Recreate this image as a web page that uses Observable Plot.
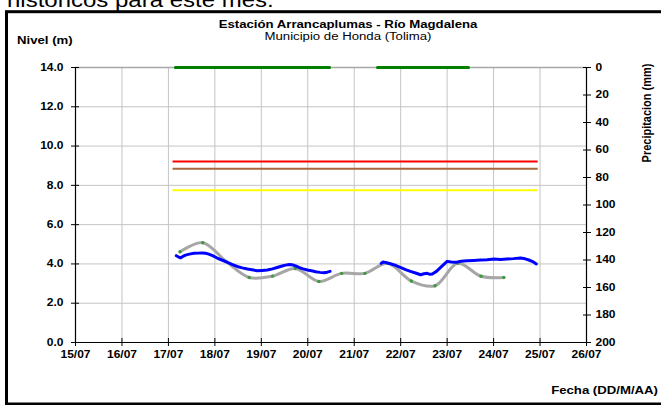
<!DOCTYPE html>
<html><head><meta charset="utf-8">
<script src="https://cdn.jsdelivr.net/npm/d3@7"></script>
<script src="https://cdn.jsdelivr.net/npm/@observablehq/plot@0.6"></script>
<style>
body{margin:0;background:#fff;}
#chart{position:relative;width:661px;height:405px;overflow:hidden;}
#chart svg{display:block;}
</style>
</head><body><div id="chart"></div>
<script>
// ---- data ----
const dayTicks = [15, 16, 17, 18, 19, 20, 21, 22, 23, 24, 25, 26];
const dayLabels = ["15/07","16/07","17/07","18/07","19/07","20/07","21/07","22/07","23/07","24/07","25/07","26/07"];
const levelTicks = [0, 2, 4, 6, 8, 10, 12, 14];
const precipTicks = [0, 20, 40, 60, 80, 100, 120, 140, 160, 180, 200];

// observed level (blue), null = no data
const obsDay = [17.17,17.22,17.26,17.31,17.37,17.45,17.55,17.64,17.73,17.80,17.87,17.95,18.05,18.15,18.27,18.38,18.48,18.59,18.70,18.80,18.91,19.02,19.13,19.24,19.34,19.43,19.52,19.60,19.66,19.74,19.81,19.90,19.99,20.08,20.17,20.26,20.35,20.42,20.48,
  21.00,
  21.58,21.62,21.67,21.76,21.85,21.94,22.03,22.12,22.21,22.32,22.43,22.50,22.57,22.63,22.68,22.77,22.86,22.93,23.00,23.09,23.18,23.30,23.43,23.57,23.72,23.86,24.01,24.15,24.29,24.43,24.58,24.68,24.76,24.84,24.92];
const obsLevel = [4.42,4.35,4.31,4.38,4.45,4.50,4.54,4.55,4.56,4.54,4.50,4.42,4.30,4.20,4.08,3.97,3.87,3.80,3.74,3.70,3.65,3.67,3.69,3.75,3.82,3.88,3.94,3.97,3.96,3.90,3.82,3.75,3.69,3.65,3.60,3.57,3.55,3.58,3.62,
  null,
  4.03,4.10,4.08,4.02,3.96,3.88,3.79,3.70,3.62,3.54,3.45,3.50,3.52,3.47,3.49,3.62,3.82,3.98,4.13,4.10,4.08,4.14,4.16,4.18,4.20,4.21,4.25,4.22,4.25,4.27,4.30,4.26,4.20,4.12,4.00];

// forecast level (gray, with green points)
const fcDay = [17.25,17.74,18.24,18.74,19.24,19.73,20.24,20.73,21.23,21.72,22.23,22.74,23.23,23.73,24.22];
const fcLevel = [4.62,5.08,4.13,3.31,3.38,3.77,3.11,3.52,3.52,4.03,3.13,2.89,4.03,3.37,3.31];

// alert thresholds
const alertNames = ["Alerta roja","Alerta naranja","Alerta amarilla"];
const alertLevel = [9.21, 8.84, 7.75];
const alertFrom = [17.1, 17.1, 17.1];
const alertTo = [24.96, 24.96, 24.96];

// precipitation (mm), null = no data
const precipDay = [17.15,17.5,18,18.5,19,19.5,20,20.47,21.0,21.5,22,22.5,23,23.46];
const precipMm  = [0,0,0,0,0,0,0,0,null,0,0,0,0,0];

// ---- build tables ----
const Y_MAX = 14, P_MAX = 200;
const toY = mm => (mm == null ? NaN : Y_MAX - mm * Y_MAX / P_MAX);
const obs = obsDay.map((d, i) => ({day: d, level: obsLevel[i] == null ? NaN : obsLevel[i]}));
const fc = fcDay.map((d, i) => ({day: d, level: fcLevel[i]}));
const alerts = alertNames.map((n, i) => ({name: n, level: alertLevel[i], x1: alertFrom[i], x2: alertTo[i]}));
const precip = precipDay.map((d, i) => ({day: d, mm: precipMm[i]}));

const FONT = "'Liberation Sans', Arial, sans-serif";

const plot = Plot.plot({
  width: 661, height: 405,
  marginLeft: 75, marginRight: 75, marginTop: 67, marginBottom: 63,
  x: {domain: [15, 26], label: null},
  y: {domain: [0, 14], label: null},
  color: {domain: alertNames, range: ["#ff0000", "#a8683c", "#ffff00"]},
  style: {fontFamily: FONT, fontSize: "10px", fontWeight: "bold", color: "#000", background: "transparent", overflow: "visible"},
  marks: [
    Plot.gridX(dayTicks, {stroke: "#c4c4c4", strokeOpacity: 1}),
    Plot.gridY(levelTicks, {stroke: "#c4c4c4", strokeOpacity: 1}),
    Plot.ruleY([14], {stroke: "#a8a8a8", strokeWidth: 1.5}),
    Plot.ruleX([15, 26], {stroke: "#000", strokeWidth: 1.2}),
    Plot.ruleY([0], {stroke: "#000", strokeWidth: 1.2}),
    // tick marks crossing the axes
    Plot.axisY(levelTicks, {anchor: "left", tickSize: 8, dx: 4, tickFormat: () => "", label: null}),
    Plot.axisY(levelTicks, {anchor: "left", tickSize: 0, tickPadding: 12, tickFormat: d => d.toFixed(1), label: null}),
    Plot.axisY(precipTicks.map(toY), {anchor: "right", tickSize: 8, dx: -4, tickFormat: () => "", label: null}),
    Plot.axisY(precipTicks.map(toY), {anchor: "right", tickSize: 0, tickPadding: 9,
      tickFormat: v => String(Math.round((Y_MAX - v) * P_MAX / Y_MAX)), label: null}),
    Plot.axisX(dayTicks, {anchor: "bottom", tickSize: 8, dy: -4, tickFormat: () => "", label: null}),
    Plot.axisX(dayTicks, {anchor: "bottom", tickSize: 0, tickPadding: 8,
      tickFormat: d => dayLabels[dayTicks.indexOf(d)], label: null}),
    // thresholds
    Plot.ruleY(alerts, {y: "level", x1: "x1", x2: "x2", stroke: "name", strokeWidth: 2}),
    // precipitation on secondary axis
    Plot.line(precip, {x: "day", y: d => toY(d.mm), stroke: "#008000", strokeWidth: 3}),
    // forecast
    Plot.line(fc, {x: "day", y: "level", curve: "catmull-rom", stroke: "#a6a6a6", strokeWidth: 3}),
    Plot.dot(fc, {x: "day", y: "level", r: 1.7, fill: "#3c9a3c", stroke: null}),
    // observed
    Plot.line(obs, {x: "day", y: "level", stroke: "#0000ff", strokeWidth: 3})
  ]
});

// horizontal stretch of text glyphs (reference is widened ~1.2x)
const SX = 1.2;
function stretch(el) {
  const x = +(el.getAttribute("x") || 0);
  const t = el.getAttribute("transform") || "";
  el.setAttribute("transform", `${t} translate(${x},0) scale(${SX},1) translate(${-x},0)`);
}
d3.select(plot).selectAll("text").each(function() { stretch(this); });

const svg = d3.select(plot);
const extra = svg.append("g").attr("font-family", FONT).attr("fill", "#000");
function addText(str, x, y, opts = {}) {
  const t = extra.append("text")
    .attr("transform", `translate(${x},${y}) scale(${SX},1)` + (opts.rotate ? ` rotate(${opts.rotate})` : ""))
    .attr("font-size", opts.size || 11)
    .attr("font-weight", opts.weight || "bold")
    .attr("text-anchor", opts.anchor || "start")
    .text(str);
  return t;
}
addText("históricos para este mes.", 7, 7, {size: 20, weight: "normal"});
addText("Estación Arrancaplumas - Río Magdalena", 348, 28.3, {anchor: "middle"});
addText("Municipio de Honda (Tolima)", 348, 40.3, {anchor: "middle", weight: "normal"});
addText("Nivel (m)", 17, 43.8);
addText("Fecha (DD/M/AA)", 658, 394, {anchor: "end"});
addText("Precipitacion (mm)", 650.5, 113, {anchor: "middle", rotate: -90});

// outer frame
svg.append("rect").attr("x", 6.5).attr("y", 11.7).attr("width", 720).attr("height", 392.3)
  .attr("fill", "none").attr("stroke", "#000").attr("stroke-width", 3);

document.getElementById("chart").appendChild(plot);
</script>
</body></html>
